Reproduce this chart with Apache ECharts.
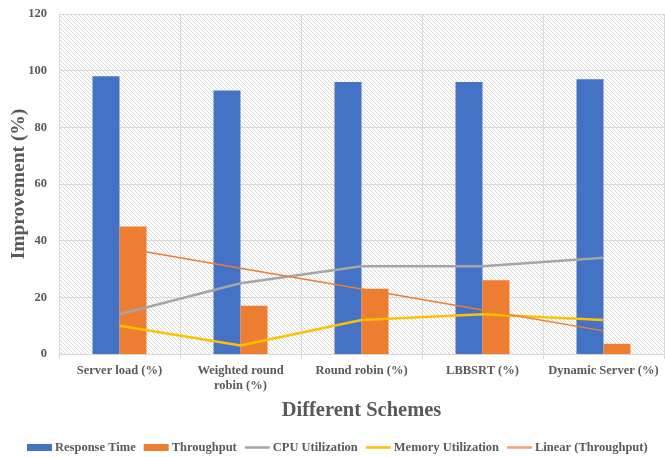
<!DOCTYPE html>
<html>
<head>
<meta charset="utf-8">
<script src="https://cdn.jsdelivr.net/npm/echarts@6/dist/echarts.min.js"></script>
<style>
  html, body { margin: 0; padding: 0; background: #ffffff; }
  #chart { width: 665px; height: 457px; }
</style>
</head>
<body>
<div id="chart"></div>
<script>
// Schemes compared
const schemes = ['Server load (%)', 'Weighted round\nrobin (%)', 'Round robin (%)', 'LBBSRT (%)', 'Dynamic Server (%)'];

// Improvement values (%) per scheme
const responseTime = [98, 93, 96, 96, 97];
const throughput = [45, 17, 23, 26, 3.6];
const cpuUtilization = [14, 25, 31, 31, 34];
const memoryUtilization = [10, 3, 12, 14, 12];

// Value-axis ticks
const yTicks = [0, 20, 40, 60, 80, 100, 120];

// Least-squares linear trend of throughput over the scheme index
function linearTrend(values) {
  const n = values.length;
  const xs = values.map((_, i) => i + 1);
  const mx = xs.reduce((a, b) => a + b, 0) / n;
  const my = values.reduce((a, b) => a + b, 0) / n;
  let sxy = 0, sxx = 0;
  for (let i = 0; i < n; i++) {
    sxy += (xs[i] - mx) * (values[i] - my);
    sxx += (xs[i] - mx) * (xs[i] - mx);
  }
  const slope = sxy / sxx;
  return xs.map(x => +(my + slope * (x - mx)).toFixed(3));
}
const throughputTrend = linearTrend(throughput);

// Light diagonal hatching for the plot area
function hatchPattern() {
  const c = document.createElement('canvas');
  c.width = 4; c.height = 4;
  const g = c.getContext('2d');
  g.fillStyle = '#ffffff';
  g.fillRect(0, 0, 4, 4);
  g.strokeStyle = '#d6d6d6';
  g.lineWidth = 1;
  g.beginPath();
  g.moveTo(-1, -1); g.lineTo(5, 5);
  g.moveTo(-1, 3); g.lineTo(1, 5);
  g.moveTo(3, -1); g.lineTo(5, 1);
  g.stroke();
  return c;
}

const serif = '"Liberation Serif", "Times New Roman", serif';
const textGray = '#595959';
const gridGray = '#d9d9d9';
// Thin horizontal stroke used as the legend key for line series
const lineKey = 'path://M0,0H25V2.5H0Z';

const chart = echarts.init(document.getElementById('chart'), null, { renderer: 'canvas' });
chart.setOption({
  animation: false,
  textStyle: { fontFamily: serif },
  grid: {
    left: 59, right: 1, top: 14, bottom: 103,
    outerBoundsMode: 'none',
    containLabel: false,
    show: true,
    borderWidth: 0,
    backgroundColor: { image: hatchPattern(), repeat: 'repeat' }
  },
  legend: {
    top: 436,
    left: 22,
    itemWidth: 25,
    itemHeight: 7,
    itemGap: 8,
    symbolKeepAspect: true,
    textStyle: { fontFamily: serif, fontWeight: 'bold', fontSize: 12.5, color: textGray, padding: [0, 0, 0, -2] },
    data: [
      { name: 'Response Time', icon: 'rect' },
      { name: 'Throughput', icon: 'rect' },
      { name: 'CPU Utilization', icon: lineKey },
      { name: 'Memory Utilization', icon: lineKey },
      { name: 'Linear (Throughput)', icon: lineKey }
    ]
  },
  xAxis: {
    type: 'category',
    data: schemes,
    name: 'Different Schemes',
    nameLocation: 'middle',
    nameGap: 46,
    nameMoveOverlap: false,
    nameTextStyle: { fontFamily: serif, fontWeight: 'bold', fontSize: 20.5, color: textGray },
    axisLine: { lineStyle: { color: gridGray } },
    axisTick: { show: true, length: 5, lineStyle: { color: gridGray } },
    splitLine: { show: true, lineStyle: { color: gridGray } },
    axisLabel: {
      interval: 0,
      margin: 9,
      fontFamily: serif, fontWeight: 'bold', fontSize: 12.5, color: textGray,
      lineHeight: 15
    }
  },
  yAxis: {
    type: 'value',
    min: yTicks[0],
    max: yTicks[yTicks.length - 1],
    interval: yTicks[1] - yTicks[0],
    name: 'Improvement (%)',
    nameLocation: 'middle',
    nameGap: 30,
    nameMoveOverlap: false,
    nameTextStyle: { fontFamily: serif, fontWeight: 'bold', fontSize: 19.5, color: textGray },
    axisLine: { show: false },
    axisTick: { show: false },
    splitLine: { show: true, lineStyle: { color: gridGray } },
    axisLabel: { margin: 12, fontFamily: serif, fontWeight: 'bold', fontSize: 12.5, color: textGray }
  },
  series: [
    {
      name: 'Response Time', type: 'bar', data: responseTime,
      barWidth: 27, barGap: '0%',
      itemStyle: { color: '#4472C4' }
    },
    {
      name: 'Throughput', type: 'bar', data: throughput,
      barWidth: 27, barGap: '0%',
      itemStyle: { color: '#ED7D31' }
    },
    {
      name: 'CPU Utilization', type: 'line', data: cpuUtilization,
      symbol: 'none', z: 3,
      lineStyle: { color: '#A5A5A5', width: 2.5 },
      itemStyle: { color: '#A5A5A5' }
    },
    {
      name: 'Memory Utilization', type: 'line', data: memoryUtilization,
      symbol: 'none', z: 3,
      lineStyle: { color: '#FFC000', width: 2.5 },
      itemStyle: { color: '#FFC000' }
    },
    {
      name: 'Linear (Throughput)', type: 'line', data: throughputTrend,
      symbol: 'none', z: 4,
      lineStyle: { color: '#ED7D31', width: 1.5 },
      itemStyle: { color: '#F4A06A' }
    }
  ]
});
</script>
</body>
</html>
